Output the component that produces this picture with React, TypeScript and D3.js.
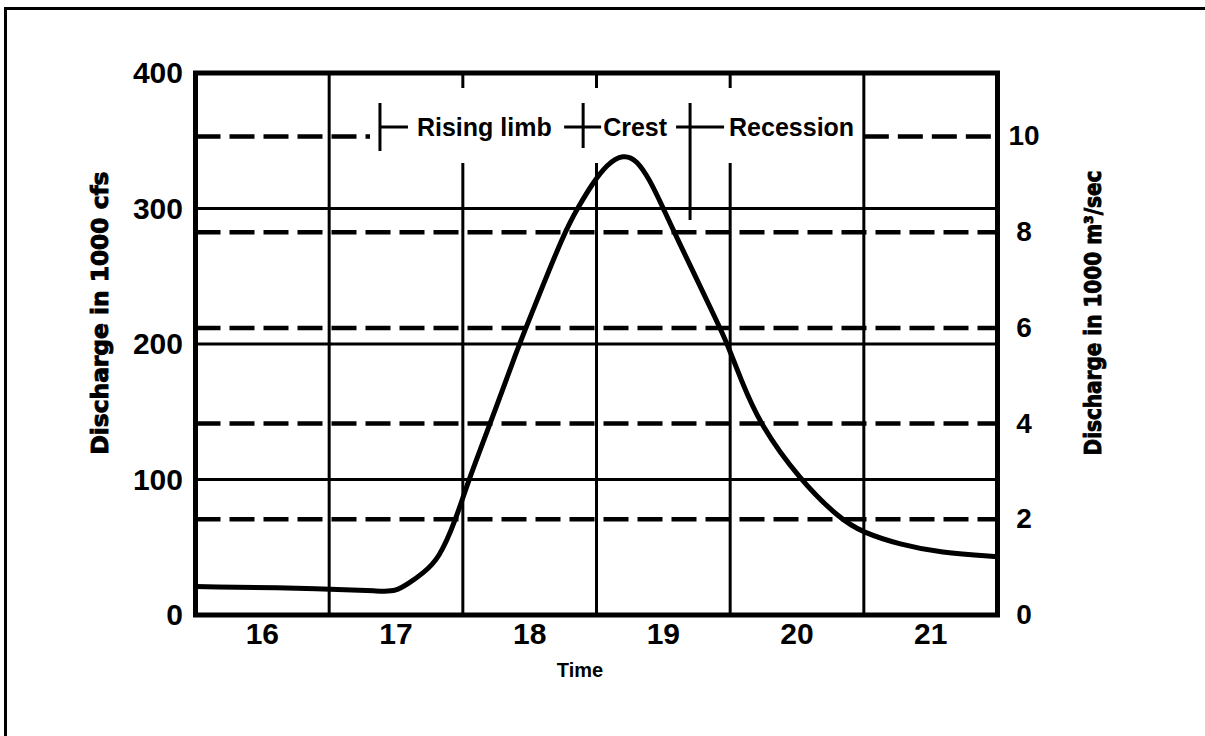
import React from "react";
import * as d3 from "d3";

// Flood hydrograph: discharge over time (days), cfs on the left axis, m³/s on the right.
const timeDays = [
  15.5, 16.5, 16.9, 16.99, 17.1, 17.2, 17.32, 17.45, 17.53, 17.7, 17.915, 17.985, 18.264, 18.37,
  18.46, 18.58, 18.7, 18.8, 18.9, 19.0, 19.074, 19.424, 19.474, 19.58, 19.72, 20.02, 20.32, 20.49,
  20.77, 21.07, 21.5,
];
const dischargeKcfs = [
  21, 19.5, 17.5, 17.2, 23.5, 30.8, 41, 71, 96, 140, 198, 215, 284, 302,
  317, 333, 340, 336, 321, 300, 284, 212, 201, 174, 141, 100, 71, 61,
  52, 46, 43,
];

const timeTicks = [16, 17, 18, 19, 20, 21];
const dayBoundaries = [16.5, 17.5, 18.5, 19.5, 20.5];
const cfsTicks = [0, 100, 200, 300, 400];
const cfsGridLevels = [100, 200, 300];
const metricTicks = [0, 2, 4, 6, 8, 10];
const metricGridLevels = [2, 4, 6, 8, 10];
const CFS_PER_CMS = 35.3147; // 1000 m³/s expressed in 1000 cfs

// Hydrograph phases: marker time and label
const phaseNames = ["Rising limb", "Crest", "Recession"];
const phaseMarkers = [16.88, 18.4, 19.2];

const W = 1205;
const H = 736;
const FONT = "'Liberation Sans', Arial, Helvetica, sans-serif";
const TITLE_FONT = "'DejaVu Sans Condensed', 'DejaVu Sans', sans-serif";

export default function App() {
  const x = d3.scaleLinear().domain([15.5, 21.5]).range([195.5, 997.5]);
  const y = d3.scaleLinear().domain([0, 400]).range([615, 73]);
  const yMetric = (v: number) => y(v * CFS_PER_CMS);

  const [x0, x1] = x.range();
  const [yb, yt] = y.range();

  const line = d3
    .line<number>()
    .x((_, i) => x(timeDays[i]))
    .y((d) => y(d))
    .curve(d3.curveBasis);
  const curvePath = line(dischargeKcfs) ?? "";

  // band kept clear of vertical grid lines for the phase labels
  const gapTop = 88;
  const gapBottom = 163;
  const labelY = 127;
  const topLevel = metricGridLevels[metricGridLevels.length - 1];

  const mRise = x(phaseMarkers[0]);
  const mCrest = x(phaseMarkers[1]);
  const mRec = x(phaseMarkers[2]);

  return (
    <svg
      width={W}
      height={H}
      viewBox={`0 0 ${W} ${H}`}
      style={{ position: "absolute", left: 0, top: 0, display: "block", background: "#fff" }}
    >
      <defs>
        <clipPath id="plotClip">
          <rect x={x0} y={yt} width={x1 - x0} height={yb - yt} />
        </clipPath>
      </defs>

      {/* outer page frame */}
      <line x1={4} y1={8.5} x2={W} y2={8.5} stroke="#000" strokeWidth={3} />
      <line x1={5.5} y1={7} x2={5.5} y2={H} stroke="#000" strokeWidth={3} />

      {/* solid horizontal grid (cfs) */}
      {cfsGridLevels.map((v) => (
        <line key={`h${v}`} x1={x0} x2={x1} y1={y(v)} y2={y(v)} stroke="#000" strokeWidth={3} />
      ))}

      {/* dashed horizontal grid (m³/s) */}
      {metricGridLevels
        .filter((v) => v !== topLevel)
        .map((v) => (
          <line
            key={`d${v}`}
            x1={x0}
            x2={x1}
            y1={yMetric(v)}
            y2={yMetric(v)}
            stroke="#000"
            strokeWidth={4.5}
            strokeDasharray="25 9"
          />
        ))}
      <line
        x1={x0}
        x2={370}
        y1={yMetric(topLevel)}
        y2={yMetric(topLevel)}
        stroke="#000"
        strokeWidth={4.5}
        strokeDasharray="25 9"
      />
      <line
        x1={x(20.5)}
        x2={x1}
        y1={yMetric(topLevel)}
        y2={yMetric(topLevel)}
        stroke="#000"
        strokeWidth={4.5}
        strokeDasharray="25 9"
      />

      {/* vertical day boundaries */}
      {dayBoundaries.map((t) => {
        const gap = t > 17 && t < 20;
        return gap ? (
          <g key={`v${t}`}>
            <line x1={x(t)} x2={x(t)} y1={yt} y2={gapTop} stroke="#000" strokeWidth={3} />
            <line x1={x(t)} x2={x(t)} y1={gapBottom} y2={yb} stroke="#000" strokeWidth={3} />
          </g>
        ) : (
          <line key={`v${t}`} x1={x(t)} x2={x(t)} y1={yt} y2={yb} stroke="#000" strokeWidth={3} />
        );
      })}

      {/* hydrograph */}
      <path
        d={curvePath}
        fill="none"
        stroke="#000"
        strokeWidth={5}
        strokeLinejoin="round"
        clipPath="url(#plotClip)"
      />

      {/* phase markers */}
      <g stroke="#000" strokeWidth={3}>
        <line x1={mRise} x2={mRise} y1={103} y2={151} />
        <line x1={mRise} x2={mRise + 28} y1={labelY} y2={labelY} />
        <line x1={mCrest} x2={mCrest} y1={103} y2={148} />
        <line x1={mCrest - 19} x2={mCrest + 18} y1={labelY} y2={labelY} />
        <line x1={mRec} x2={mRec} y1={103} y2={220} />
        <line x1={mRec - 14} x2={mRec + 34} y1={labelY} y2={labelY} />
      </g>
      <g fontFamily={FONT} fontWeight="bold" fontSize={25} fill="#000">
        <text x={mRise + 37} y={labelY + 9}>{phaseNames[0]}</text>
        <text x={mCrest + 20} y={labelY + 9}>{phaseNames[1]}</text>
        <text x={mRec + 39} y={labelY + 9}>{phaseNames[2]}</text>
      </g>

      {/* plot frame */}
      <rect x={x0} y={yt} width={x1 - x0} height={yb - yt} fill="none" stroke="#000" strokeWidth={5} />

      {/* left axis labels */}
      <g fontFamily={FONT} fontWeight="bold" fontSize={30} fill="#000" textAnchor="end">
        {cfsTicks.map((v) => (
          <text key={`l${v}`} x={183} y={y(v) + 10}>
            {v}
          </text>
        ))}
      </g>

      {/* right axis labels */}
      <g fontFamily={FONT} fontWeight="bold" fontSize={28} fill="#000" textAnchor="middle">
        {metricTicks.map((v) => (
          <text key={`r${v}`} x={1024} y={(v === 0 ? yb : yMetric(v)) + 9}>
            {v}
          </text>
        ))}
      </g>

      {/* time axis labels */}
      <g fontFamily={FONT} fontWeight="bold" fontSize={30} fill="#000" textAnchor="middle">
        {timeTicks.map((t) => (
          <text key={`t${t}`} x={x(t)} y={644}>
            {t}
          </text>
        ))}
      </g>
      <text x={580} y={677} fontFamily={FONT} fontWeight="bold" fontSize={20} textAnchor="middle">
        Time
      </text>

      {/* axis titles */}
      <g fontFamily={TITLE_FONT} fontWeight="bold" fontSize={23} fill="#000" stroke="#000" strokeWidth={0.9}>
        <text
          transform="translate(108,313) rotate(-90)"
          textAnchor="middle"
          textLength={283}
          lengthAdjust="spacingAndGlyphs"
        >
          Discharge in 1000 cfs
        </text>
        <text
          transform="translate(1101,313) rotate(-90)"
          textAnchor="middle"
          textLength={285}
          lengthAdjust="spacingAndGlyphs"
        >
          Discharge in 1000 m³/sec
        </text>
      </g>
    </svg>
  );
}
